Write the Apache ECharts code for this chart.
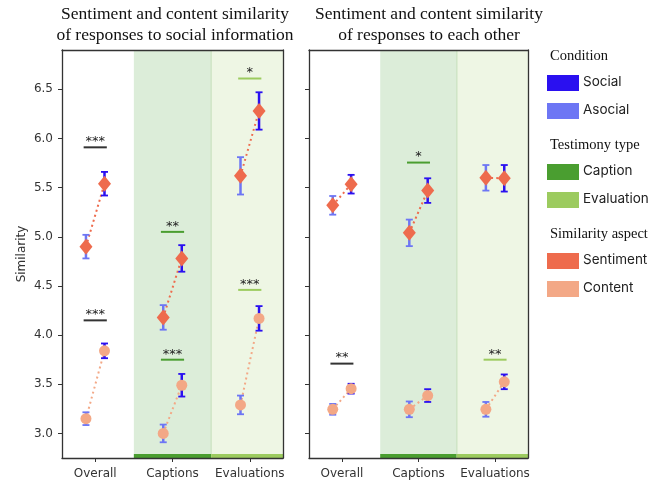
<!DOCTYPE html>
<html><head><meta charset="utf-8">
<script src="https://cdn.jsdelivr.net/npm/echarts@6/dist/echarts.min.js"></script>
<style>html,body{margin:0;padding:0;background:#fff}#chart{width:657px;height:482px}</style>
</head><body><div id="chart"></div>
<script>
// ---------- data ----------
const categories = ['Overall', 'Captions', 'Evaluations'];
const yTicks = [3.0, 3.5, 4.0, 4.5, 5.0, 5.5, 6.0, 6.5];
const panelTitles = [
  'Sentiment and content similarity\nof responses to social information',
  'Sentiment and content similarity\nof responses to each other'
];
const yAxisName = 'Similarity';

// Left panel: similarity of responses to social information
const leftSentimentAsocial    = [4.90, 4.18, 5.62];
const leftSentimentAsocialErr = [0.12, 0.125, 0.19];
const leftSentimentSocial     = [5.54, 4.78, 6.28];
const leftSentimentSocialErr  = [0.12, 0.135, 0.19];
const leftContentAsocial      = [3.15, 3.00, 3.29];
const leftContentAsocialErr   = [0.065, 0.09, 0.095];
const leftContentSocial       = [3.84, 3.49, 4.17];
const leftContentSocialErr    = [0.075, 0.115, 0.125];
const leftSigCategory = [0, 0, 1, 1, 2, 2];
const leftSigY        = [5.91, 4.15, 5.05, 3.75, 6.61, 4.46];
const leftSigLabel    = ['***', '***', '**', '***', '*', '***'];

// Right panel: similarity of responses to each other
const rightSentimentAsocial    = [5.32, 5.04, 5.60];
const rightSentimentAsocialErr = [0.095, 0.135, 0.13];
const rightSentimentSocial     = [5.535, 5.47, 5.595];
const rightSentimentSocialErr  = [0.095, 0.125, 0.135];
const rightContentAsocial      = [3.245, 3.245, 3.245];
const rightContentAsocialErr   = [0.055, 0.08, 0.075];
const rightContentSocial       = [3.455, 3.385, 3.525];
const rightContentSocialErr    = [0.05, 0.065, 0.075];
const rightSigCategory = [0, 1, 2];
const rightSigY        = [3.71, 5.755, 3.75];
const rightSigLabel    = ['**', '*', '**'];

// Legend
const legendGroups = [
  {title: 'Condition', items: ['Social', 'Asocial']},
  {title: 'Testimony type', items: ['Caption', 'Evaluation']},
  {title: 'Similarity aspect', items: ['Sentiment', 'Content']}
];

// ---------- styles ----------
const C = {
  Social: '#2A10F0', Asocial: '#6D76F4',
  Caption: '#4A9E30', Evaluation: '#9CCB5F',
  Sentiment: '#EE6B4D', Content: '#F3A886'
};
const bandFill = {1: '#DCEDD9', 2: '#EEF6E4'};
const bandStrip = {1: C.Caption, 2: C.Evaluation};
const sigColor = ['#333333', C.Caption, C.Evaluation];
const DODGE = 0.12;
const XMIN = -0.43, XMAX = 2.43, YMIN = 2.75, YMAX = 6.9;
const tickFont = 'DejaVu Sans';

// ---------- render helpers ----------
function renderBand(params, api) {
  const cs = params.coordSys;
  const x0 = Math.max(api.coord([api.value(0), YMIN])[0], cs.x);
  const x1 = Math.min(api.coord([api.value(1), YMIN])[0], cs.x + cs.width);
  const t = api.value(2);
  const children = [
    {type: 'rect', shape: {x: x0, y: cs.y, width: x1 - x0, height: cs.height}, style: {fill: bandFill[t]}},
    {type: 'rect', shape: {x: x0, y: cs.y + cs.height - 4, width: x1 - x0, height: 4}, style: {fill: bandStrip[t]}}
  ];
  if (t === 2) {
    children.push({type: 'line', shape: {x1: x0, y1: cs.y, x2: x0, y2: cs.y + cs.height - 4},
      style: {stroke: '#CFE5C6', lineWidth: 1.5}});
  }
  return {type: 'group', children};
}
function makeErr(color) {
  return function (params, api) {
    const x = api.value(0), y = api.value(1), e = api.value(2);
    const top = api.coord([x, y + e]), bot = api.coord([x, y - e]);
    const cw = 3.5;
    const st = {stroke: color, lineWidth: 2.5};
    const cst = {stroke: color, lineWidth: 1.8};
    return {type: 'group', children: [
      {type: 'line', shape: {x1: top[0], y1: top[1], x2: bot[0], y2: bot[1]}, style: st},
      {type: 'line', shape: {x1: top[0] - cw, y1: top[1], x2: top[0] + cw, y2: top[1]}, style: cst},
      {type: 'line', shape: {x1: bot[0] - cw, y1: bot[1], x2: bot[0] + cw, y2: bot[1]}, style: cst}
    ]};
  };
}
function makeConnector(color) {
  return function (params, api) {
    const c = api.value(0);
    const a = api.coord([c - DODGE, api.value(1)]);
    const b = api.coord([c + DODGE, api.value(2)]);
    return {type: 'line', shape: {x1: a[0], y1: a[1], x2: b[0], y2: b[1]},
      style: {stroke: color, lineWidth: 2, lineDash: [2, 3.2]}};
  };
}
function makeSig(labels) {
  return function (params, api) {
    const c = api.value(0), y = api.value(1);
    const a = api.coord([c - 0.15, y]);
    const b = api.coord([c + 0.15, y]);
    const col = sigColor[c];
    return {type: 'group', children: [
      {type: 'line', shape: {x1: a[0], y1: a[1], x2: b[0], y2: b[1]}, style: {stroke: col, lineWidth: 2}},
      {type: 'text', x: (a[0] + b[0]) / 2, y: a[1] + 1,
        style: {text: labels[params.dataIndex], fill: '#222', font: '13px "DejaVu Sans"',
          align: 'center', verticalAlign: 'bottom'}}
    ]};
  };
}

function panelSeries(g, p) {
  const idx = categories.map((c, i) => i);
  const s = [];
  s.push({type: 'custom', xAxisIndex: g * 2, yAxisIndex: g * 2, z: 1, silent: true,
    renderItem: renderBand, encode: {x: [0, 1]},
    data: [1, 2].map(i => [i - 0.5, i + 0.5, i])});
  const aspects = [
    ['Sentiment', p.sa, p.sae, p.ss, p.sse, 'diamond', [13, 16]],
    ['Content', p.ca, p.cae, p.cs, p.cse, 'circle', 11]
  ];
  aspects.forEach(([name, av, ae, sv, se, sym, size]) => {
    s.push({type: 'custom', xAxisIndex: g * 2, yAxisIndex: g * 2, z: 2, silent: true,
      renderItem: makeConnector(C[name]), encode: {x: 0, y: 1},
      data: idx.map(i => [i, av[i], sv[i]])});
    s.push({type: 'custom', xAxisIndex: g * 2, yAxisIndex: g * 2, z: 3, silent: true,
      renderItem: makeErr(C.Asocial), encode: {x: 0, y: 1},
      data: idx.map(i => [i - DODGE, av[i], ae[i]])});
    s.push({type: 'custom', xAxisIndex: g * 2, yAxisIndex: g * 2, z: 3, silent: true,
      renderItem: makeErr(C.Social), encode: {x: 0, y: 1},
      data: idx.map(i => [i + DODGE, sv[i], se[i]])});
    s.push({type: 'scatter', xAxisIndex: g * 2, yAxisIndex: g * 2, z: 4, silent: true,
      symbol: sym, symbolSize: size, itemStyle: {color: C[name], opacity: 1},
      data: idx.map(i => [i - DODGE, av[i]]).concat(idx.map(i => [i + DODGE, sv[i]]))});
  });
  s.push({type: 'custom', xAxisIndex: g * 2, yAxisIndex: g * 2, z: 4, silent: true,
    renderItem: makeSig(p.sigL), encode: {x: 0, y: 1},
    data: p.sigC.map((c, i) => [c, p.sigY[i]])});
  return s;
}

const series = [].concat(
  panelSeries(0, {sa: leftSentimentAsocial, sae: leftSentimentAsocialErr, ss: leftSentimentSocial, sse: leftSentimentSocialErr,
    ca: leftContentAsocial, cae: leftContentAsocialErr, cs: leftContentSocial, cse: leftContentSocialErr,
    sigC: leftSigCategory, sigY: leftSigY, sigL: leftSigLabel}),
  panelSeries(1, {sa: rightSentimentAsocial, sae: rightSentimentAsocialErr, ss: rightSentimentSocial, sse: rightSentimentSocialErr,
    ca: rightContentAsocial, cae: rightContentAsocialErr, cs: rightContentSocial, cse: rightContentSocialErr,
    sigC: rightSigCategory, sigY: rightSigY, sigL: rightSigLabel})
);

const grids = [
  {left: 62, right: 374, top: 50, bottom: 24},
  {left: 309, right: 129, top: 50, bottom: 24}
];
const xAxes = [], yAxes = [];
[0, 1].forEach(g => {
  xAxes.push({type: 'value', gridIndex: g, min: XMIN, max: XMAX, position: 'bottom', z: 10,
    splitLine: {show: false},
    axisLine: {show: true, onZero: false, lineStyle: {color: '#333', width: 1.3}},
    axisTick: {show: true, length: 4, customValues: [0, 1, 2], lineStyle: {color: '#333'}},
    axisLabel: {show: true, customValues: [0, 1, 2], margin: 10, color: '#333', fontSize: 12, fontFamily: tickFont,
      formatter: v => categories[Math.round(v)]}});
  xAxes.push({type: 'value', gridIndex: g, min: XMIN, max: XMAX, position: 'top', z: 10,
    splitLine: {show: false}, axisTick: {show: false}, axisLabel: {show: false},
    axisLine: {show: true, onZero: false, lineStyle: {color: '#333', width: 1.3}}});
  yAxes.push({type: 'value', gridIndex: g, min: YMIN, max: YMAX, position: 'left', z: 10,
    name: g === 0 ? yAxisName : '', nameLocation: 'middle', nameGap: 34,
    nameTextStyle: {color: '#333', fontSize: 12, fontFamily: tickFont},
    splitLine: {show: false},
    axisLine: {show: true, onZero: false, lineStyle: {color: '#333', width: 1.3}},
    axisTick: {show: true, length: 4, customValues: yTicks, lineStyle: {color: '#333'}},
    axisLabel: {show: g === 0, customValues: yTicks, margin: 9, color: '#333', fontSize: 12, fontFamily: tickFont,
      formatter: v => v.toFixed(1)}});
  yAxes.push({type: 'value', gridIndex: g, min: YMIN, max: YMAX, position: 'right', z: 10,
    splitLine: {show: false}, axisTick: {show: false}, axisLabel: {show: false},
    axisLine: {show: true, onZero: false, lineStyle: {color: '#333', width: 1.3}}});
});

// legend graphics
const legendEls = [];
let ly = 58;
legendGroups.forEach((grp, gi) => {
  legendEls.push({type: 'text', left: 550, top: ly - 9,
    style: {text: grp.title, fill: '#111', font: '14.5px "Liberation Serif"'}});
  ly += 25;
  grp.items.forEach(it => {
    legendEls.push({type: 'rect', left: 547, top: ly - 8, shape: {width: 32, height: 16}, style: {fill: C[it]}});
    legendEls.push({type: 'text', left: 583, top: ly - 8,
      style: {text: it, fill: '#222', font: '13.5px Inter'}});
    ly += 28;
  });
  ly += 8;
});

const option = {
  backgroundColor: '#fff',
  animation: false,
  title: [
    {text: panelTitles[0], left: 170, top: -1, textAlign: 'center',
      textStyle: {fontFamily: 'Liberation Serif', fontSize: 17.5, fontWeight: 'normal', color: '#111', lineHeight: 21}},
    {text: panelTitles[1], left: 424, top: -1, textAlign: 'center',
      textStyle: {fontFamily: 'Liberation Serif', fontSize: 17.5, fontWeight: 'normal', color: '#111', lineHeight: 21}}
  ],
  grid: grids,
  xAxis: xAxes,
  yAxis: yAxes,
  series: series,
  graphic: legendEls
};
const chart = echarts.init(document.getElementById('chart'));
chart.setOption(option);
</script>
</body></html>
